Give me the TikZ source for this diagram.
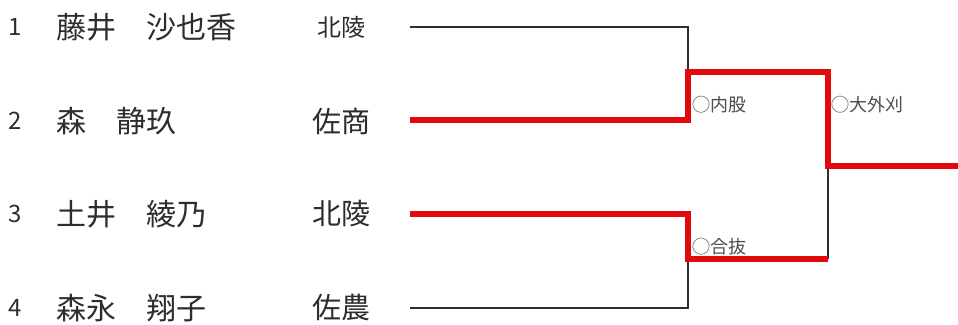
\documentclass[tikz,border=0pt]{standalone}
\usepackage{fontspec}
\setmainfont{Noto Sans CJK JP}
\usepackage{tikz}
\definecolor{winred}{RGB}{226,8,12}
\definecolor{inkgray}{RGB}{45,45,45}
\tikzset{
  seed/.style={inner sep=0pt, text=inkgray, font=\fontsize{24}{26}\selectfont},
  player/.style={inner sep=0pt, anchor=west, text=inkgray, font=\fontsize{30}{32}\selectfont},
  club/.style={inner sep=0pt, text=inkgray, font=\fontsize{29}{31}\selectfont},
  waza/.style={inner sep=0pt, anchor=west, text=inkgray!85, font=\fontsize{18}{20}\selectfont},
  lost/.style={line width=2, draw=inkgray},
  won/.style={line width=6, draw=winred}
}

\begin{document}
\begin{tikzpicture}[x=1pt,y=1pt]
  \useasboundingbox (0,0) rectangle (958,324);
  % seeds, names, clubs
  \node[seed] (n1) at (15,297) {1};
  \node[seed] (n2) at (15,203) {2};
  \node[seed] (n3) at (15,110) {3};
  \node[seed] (n4) at (15,16) {4};
  \node[player] (p1) at (56,297) {藤井　沙也香};
  \node[player] (p2) at (56,203) {森　静玖};
  \node[player] (p3) at (56,110) {土井　綾乃};
  \node[player] (p4) at (56,16) {森永　翔子};
  \node[club, font=\fontsize{24}{26}\selectfont] (c1) at (341,297) {北陵};
  \node[club] (c2) at (341,203) {佐商};
  \node[club] (c3) at (341,110) {北陵};
  \node[club] (c4) at (341,16) {佐農};
  % bracket points
  \coordinate (l1) at (410,297);
  \coordinate (l2) at (410,204);
  \coordinate (l3) at (410,110);
  \coordinate (l4) at (410,16);
  \coordinate (a1) at (688,297);
  \coordinate (a2) at (688,204);
  \coordinate (a3) at (688,110);
  \coordinate (a4) at (688,16);
  \coordinate (s1) at (688,252);
  \coordinate (s2) at (688,65);
  \coordinate (t1) at (828,252);
  \coordinate (t2) at (828,65);
  \coordinate (f) at (828,158);
  \coordinate (w) at (958,158);
  % losers
  \draw[lost] (l1) -- (a1) -- (s1);
  \draw[lost] (l4) -- (a4) -- (s2);
  \draw[lost] (t2) -- (f);
  % winners
  \draw[won] (l2) -- (a2) -- (s1) -- (t1) -- (f) -- (w);
  \draw[won] (l3) -- (a3) -- (s2) -- (t2);
  % techniques
  \node[waza] (k1) at (692,219) {◯内股};
  \node[waza] (k2) at (692,77) {◯合抜};
  \node[waza] (k3) at (831,219) {◯大外刈};
\end{tikzpicture}
\end{document}
